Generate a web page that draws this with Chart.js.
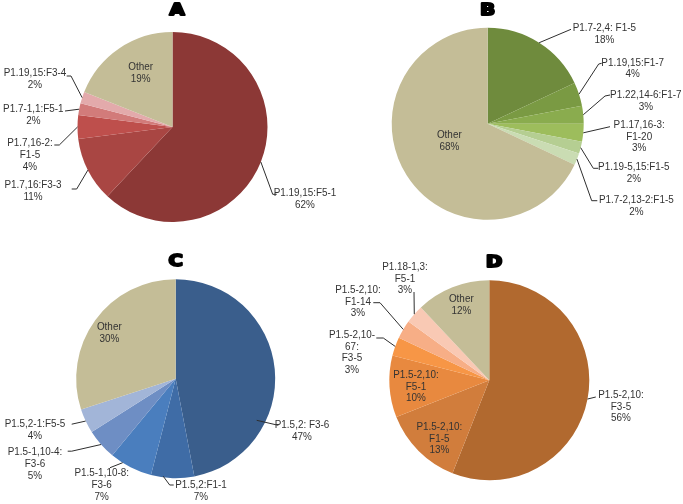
<!DOCTYPE html>
<html>
<head>
<meta charset="utf-8">
<script src="https://cdn.jsdelivr.net/npm/chart.js@4.4.1/dist/chart.umd.min.js"></script>
<style>
    html, body { margin: 0; padding: 0; background: #fff; }
    #wrap { position: relative; width: 683px; height: 504px; overflow: hidden; }
    canvas { position: absolute; }
</style>
</head>
<body>
<div id="wrap">
    <canvas id="pieA"></canvas>
    <canvas id="pieB"></canvas>
    <canvas id="pieC"></canvas>
    <canvas id="pieD"></canvas>
</div>
<script>
// data (percent of each panel)
const namesA = [['P1.19,15:F5-1'], ['P1.7,16:F3-3'], ['P1.7,16-2:', 'F1-5'], ['P1.7-1,1:F5-1'], ['P1.19,15:F3-4'], ['Other']];
const valuesA = [62, 11, 4, 2, 2, 19];

const namesB = [['P1.7-2,4: F1-5'], ['P1.19,15:F1-7'], ['P1.22,14-6:F1-7'], ['P1.17,16-3:', 'F1-20'], ['P1.19-5,15:F1-5'], ['P1.7-2,13-2:F1-5'], ['Other']];
const valuesB = [18, 4, 3, 3, 2, 2, 68];

const namesC = [['P1.5,2: F3-6'], ['P1.5,2:F1-1'], ['P1.5-1,10-8:', 'F3-6'], ['P1.5-1,10-4:', 'F3-6'], ['P1.5,2-1:F5-5'], ['Other']];
const valuesC = [47, 7, 7, 5, 4, 30];

const namesD = [['P1.5-2,10:', 'F3-5'], ['P1.5-2,10:', 'F1-5'], ['P1.5-2,10:', 'F5-1'], ['P1.5-2,10-', '67:', 'F3-5'], ['P1.5-2,10:', 'F1-14'], ['P1.18-1,3:', 'F5-1'], ['Other']];
const valuesD = [56, 13, 10, 3, 3, 3, 12];

// colours
const colorsA = ['#8c3836', '#a94643', '#be4f4c', '#d27b7a', '#e3aaab', '#c4bd97'];
const colorsB = ['#6f8b3d', '#7a9a43', '#8aac4e', '#9dbd5c', '#b5ce92', '#cadcb3', '#c4bd97'];
const colorsC = ['#3a5e8c', '#3f6ca6', '#4a7ebe', '#6e8ec4', '#a2b5d8', '#c4bd97'];
const colorsD = ['#b1692f', '#d17d3c', '#e8893f', '#f79646', '#f7ae86', '#f9c9b4', '#c4bd97'];

// layout: canvas box on the page, pie centre/radius, label spots relative to the centre
const layoutA = {
    box: [0, 0, 341, 252], center: [172.5, 127], r: 95, title: 'A', titleAt: [4.5, -116.5], lineH: 12,
    labels: [
        { t: [132.5, 66], p: [[100.2, 67.3], [104.2, 67.3]] },
        { t: [-139.5, 58], p: [[-95.8, 62], [-100.8, 62]] },
        { t: [-142.5, 15.7], p: [[-113.2, 18], [-118.2, 18]] },
        { t: [-139.2, -17.7], p: [[-107.5, -16]] },
        { t: [-137.5, -54.3], p: [[-101.5, -51], [-105.8, -51]] },
        { t: [-31.8, -60.3], p: [] }
    ]
};
const layoutB = {
    box: [341, 0, 342, 252], center: [487.7, 123.8], r: 96, title: 'B', titleAt: [0, -113], lineH: 11.7,
    labels: [
        { t: [116.6, -95.5], p: [[83.3, -94.5]] },
        { t: [145, -61.1], p: [[111, -59.8], [114, -60.5]] },
        { t: [158.1, -28.8], p: [[117.3, -27.8], [122.3, -28.8]] },
        { t: [151.5, 1.2], p: [[122.3, 2.9]] },
        { t: [146.1, 43.5], p: [[105.6, 44.5], [110.6, 44.5]] },
        { t: [148.6, 76.2], p: [[104, 76.9], [109.6, 76.9]] },
        { t: [-38.4, 11.2], p: [] }
    ]
};
const layoutC = {
    box: [0, 252, 341, 252], center: [175.7, 378.7], r: 99.5, title: 'C', titleAt: [0, -116.7], lineH: 11.8,
    labels: [
        { t: [126.3, 46.3], from: [81, 41.6], p: [[102.6, 46.6]] },
        { t: [25.3, 106.3], from: [-12.5, 97.5], p: [[-6, 106.3], [-2, 106.3]] },
        { t: [-74, 94.6], from: [-53, 84], p: [[-65.7, 89]] },
        { t: [-140.7, 73.3], p: [[-104, 72.5], [-108, 72.5]] },
        { t: [-140.7, 45.3], p: [[-104, 45.5]] },
        { t: [-66.4, -51.7], p: [] }
    ]
};
const layoutD = {
    box: [310, 252, 373, 252], center: [489.3, 380.3], r: 100, title: 'D', titleAt: [4.7, -117.8], lineH: 11.5,
    labels: [
        { t: [131.7, 14.7], p: [[106.5, 16.7]] },
        { t: [-50, 46.7], p: [] },
        { t: [-73.3, -5.3], p: [] },
        { t: [-137.3, -45.3], p: [[-106, -42.3], [-113, -42.3]] },
        { t: [-131.3, -90.3], p: [[-109.3, -77.6], [-116, -77.6]] },
        { t: [-84.3, -113.3], p: [[-75.3, -88.3]] },
        { t: [-28, -81.3], p: [] }
    ]
};

const pieLabels = {
    id: 'pieLabels',
    afterDatasetsDraw(chart, args, opts) {
        const ctx = chart.ctx;
        const meta = chart.getDatasetMeta(0);
        const names = chart.data.labels;
        const vals = chart.data.datasets[0].data;
        let cx = 0, cy = 0;
        ctx.save();
        meta.data.forEach((arc, i) => {
            const { x, y, startAngle, endAngle, outerRadius } =
                arc.getProps(['x', 'y', 'startAngle', 'endAngle', 'outerRadius'], true);
            cx = x; cy = y;
            const lab = opts.labels[i];
            const mid = (startAngle + endAngle) / 2;
            if (lab.p.length) {
                const sx = lab.from ? x + lab.from[0] : x + Math.cos(mid) * outerRadius;
                const sy = lab.from ? y + lab.from[1] : y + Math.sin(mid) * outerRadius;
                ctx.beginPath();
                ctx.moveTo(sx, sy);
                lab.p.forEach(q => ctx.lineTo(x + q[0], y + q[1]));
                ctx.strokeStyle = '#2e2e2e';
                ctx.lineWidth = 1;
                ctx.stroke();
            }
            const lines = [...names[i], vals[i] + '%'];
            ctx.fillStyle = '#333';
            ctx.font = '11px "Liberation Sans", Arial, sans-serif';
            ctx.textAlign = 'center';
            ctx.textBaseline = 'middle';
            lines.forEach((ln, k) => {
                // slightly narrow text, like the original export
                ctx.save();
                ctx.translate(x + lab.t[0], y + lab.t[1] + k * opts.lineH);
                ctx.scale(0.9, 1);
                ctx.fillText(ln, 0, 0);
                ctx.restore();
            });
        });
        // panel letter
        ctx.translate(cx + opts.titleAt[0], cy + opts.titleAt[1] + 0.5);
        ctx.scale(1.3, 1);
        ctx.font = 'bold 15px "DejaVu Sans", sans-serif';
        ctx.textAlign = 'center';
        ctx.textBaseline = 'middle';
        ctx.fillStyle = '#000';
        ctx.strokeStyle = '#000';
        ctx.lineWidth = 2;
        ctx.lineJoin = 'round';
        ctx.fillText(opts.title, 0, 0);
        ctx.strokeText(opts.title, 0, 0);
        ctx.restore();
    }
};

function makePie(id, names, values, colors, lay) {
    const canvas = document.getElementById(id);
    const [bx, by, bw, bh] = lay.box;
    canvas.width = bw;
    canvas.height = bh;
    canvas.style.left = bx + 'px';
    canvas.style.top = by + 'px';
    const padding = {
        left: lay.center[0] - lay.r - bx,
        right: bx + bw - (lay.center[0] + lay.r),
        top: lay.center[1] - lay.r - by,
        bottom: by + bh - (lay.center[1] + lay.r)
    };
    return new Chart(canvas.getContext('2d'), {
        type: 'pie',
        data: {
            labels: names,
            datasets: [{ data: values, backgroundColor: colors, borderWidth: 0 }]
        },
        options: {
            responsive: false,
            animation: false,
            devicePixelRatio: 1,
            layout: { padding },
            plugins: {
                legend: { display: false },
                tooltip: { enabled: false },
                pieLabels: { labels: lay.labels, title: lay.title, titleAt: lay.titleAt, lineH: lay.lineH }
            }
        },
        plugins: [pieLabels]
    });
}

makePie('pieA', namesA, valuesA, colorsA, layoutA);
makePie('pieB', namesB, valuesB, colorsB, layoutB);
makePie('pieC', namesC, valuesC, colorsC, layoutC);
makePie('pieD', namesD, valuesD, colorsD, layoutD);
</script>
</body>
</html>
